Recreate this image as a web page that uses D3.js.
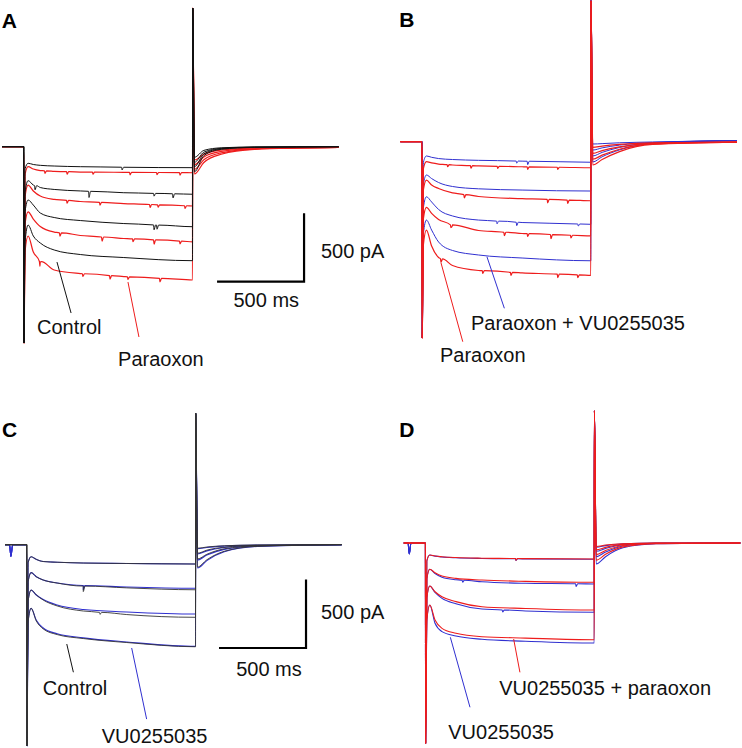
<!DOCTYPE html>
<html><head><meta charset="utf-8">
<script src="https://cdn.jsdelivr.net/npm/d3@7"></script>
<style>body{margin:0;background:#fff}svg{display:block}text{font-family:"Liberation Sans",Arial,sans-serif}</style>
</head><body>
<script>
// ---- timing (ms) ----
const stepOn = 125, stepOff = 1095, sweepEnd = 1935;
const stepTimes = [133, 150, 180, 220, 300, 450, 700, 1095];
const tailTimes = [1106, 1160, 1260, 1450, 1935];

// ---- Panel A: Control (black) vs Paraoxon (red), pA ----
const A_onsetMin = -1433, A_offsetMax = 1012;
const A_control_step = [
  [-160, -121, -130, -136, -141, -146, -150, -153],
  [-330, -248, -280, -298, -312, -323, -336, -347],
  [-470, -389, -426, -484, -517, -539, -561, -584],
  [-690, -572, -652, -703, -754, -787, -809, -832]];
const A_control_tail = [[-77,-27,-8,-2,0],[-114,-40,-12,-3,0],[-146,-52,-15,-4,0],[-183,-65,-19,-5,0]];
const A_control_events = [
  [[690,-20]],
  [[190,-30],[500,-45],[874,-20],[983,-30]],
  [[874,-35],[891,-30]],
  []];
const A_paraoxon_step = [
  [-200, -146, -163, -174, -180, -185, -187, -190],
  [-360, -280, -323, -360, -385, -400, -415, -433],
  [-560, -475, -528, -583, -623, -648, -670, -694],
  [-760, -652, -769, -842, -900, -926, -948, -973]];
const A_paraoxon_tail = [[-97,-55,-25,-10,-5],[-131,-75,-35,-14,-5],[-165,-95,-45,-17,-6],[-199,-115,-55,-20,-6]];
const A_paraoxon_events = [
  [[247,-18],[374,-18],[523,-15],[736,-18],[891,-15],[1023,-18]],
  [[374,-20],[563,-20],[851,-22],[897,-18],[1052,-20]],
  [[333,-25],[575,-30],[753,-20],[874,-30],[1023,-20]],
  [[218,-35],[465,-20],[621,-25],[724,-20],[908,-25]]];

// ---- Panel B: Paraoxon (red) vs Paraoxon + VU0255035 (blue) ----
const B_onsetMin = -1433, B_offsetMax = 1030;
const B_paraoxon_step = [
  [-195, -146, -155, -163, -170, -177, -183, -190],
  [-350, -280, -316, -342, -374, -400, -416, -431],
  [-560, -479, -523, -568, -612, -648, -670, -688],
  [-750, -645, -761, -845, -904, -940, -958, -975]];
const B_paraoxon_tail = [[-41,-32,-20,-8,-3],[-85,-65,-38,-12,-3],[-128,-98,-55,-16,-3],[-170,-130,-72,-20,-3]];
const B_paraoxon_events = [
  [[272,-15],[406,-18],[560,-15],[732,-18],[905,-15]],
  [[368,-25],[847,-25],[962,-25]],
  [[291,-20],[598,-25],[732,-20],[866,-30],[981,-20]],
  [[234,-25],[474,-20],[636,-22],[905,-25],[1020,-20]]];
const B_combo_step = [
  [-150, -104, -114, -123, -130, -136, -142, -150],
  [-310, -243, -269, -298, -327, -344, -353, -360],
  [-480, -402, -440, -495, -542, -572, -590, -603],
  [-670, -572, -645, -732, -794, -827, -849, -869]];
const B_combo_tail = [[-17,-14,-8,-2,8],[-61,-45,-25,-6,8],[-104,-78,-42,-10,8],[-148,-110,-60,-14,8]];
const B_combo_events = [
  [[669,-15],[732,-25]],
  [],
  [[556,-20],[669,-25],[1023,-15]],
  []];

// ---- Panel C: Control (black) vs VU0255035 (blue) ----
const C_onsetMin = -1467, C_offsetMax = 959;
const C_control_step = [
  [-130, -88, -107, -123, -128, -134, -137, -141],
  [-270, -204, -234, -258, -280, -302, -315, -329],
  [-410, -331, -367, -404, -447, -484, -510, -530],
  [-560, -464, -557, -615, -656, -685, -714, -745]];
const C_control_tail = [[-26,-17,-8,-2,0],[-62,-40,-18,-5,0],[-104,-70,-30,-8,0],[-163,-110,-48,-12,0]];
const C_control_events = [[], [[450,-40]], [[546,-15]], []];
const C_vu_step = [
  [-130, -88, -107, -123, -128, -134, -137, -141],
  [-270, -204, -234, -258, -280, -298, -309, -318],
  [-410, -331, -367, -400, -440, -473, -491, -506],
  [-560, -464, -552, -608, -650, -680, -710, -742]];
const C_vu_tail = [[-30,-20,-10,-3,0],[-68,-45,-21,-6,0],[-112,-76,-34,-9,0],[-170,-116,-52,-13,0]];
const C_vu_events = [[], [[450,-30]], [], []];
const C_blipTimes = [26, 34, 44], C_blipValues = [0, -85, 0];

// ---- Panel D: VU0255035 (blue) vs VU0255035 + paraoxon (red) ----
const D_onsetMin = -1462, D_offsetMax = 966;
const D_vu_step = [
  [-130, -88, -96, -102, -108, -113, -116, -119],
  [-260, -192, -223, -250, -268, -283, -294, -299],
  [-400, -314, -361, -404, -443, -482, -496, -506],
  [-560, -453, -586, -647, -679, -703, -717, -730]];
const D_vu_tail = [[-30,-19,-6,0,0],[-60,-40,-13,-2,0],[-100,-66,-22,-4,0],[-153,-100,-35,-6,0]];
const D_vu_events = [[[645,-12]], [[339,-15],[991,-20]], [[569,-15]], []];
const D_combo_step = [
  [-130, -88, -95, -100, -106, -111, -114, -117],
  [-260, -192, -217, -241, -258, -270, -280, -287],
  [-400, -314, -356, -392, -428, -465, -478, -489],
  [-560, -453, -562, -623, -659, -684, -694, -706]];
const D_combo_tail = [[-25,-15,-5,0,0],[-50,-32,-10,-2,0],[-85,-55,-18,-3,0],[-125,-82,-28,-5,0]];
const D_combo_events = [[[645,-12]], [], [], []];
const D_blipTimes = [25, 32, 42], D_blipValues = [0, -80, 0];

// ---- Scale bars (ms, pA) ----
const scaleBarMs = 500, scaleBarPA = 500;

// ---- layout ----
const W = 742, H = 748;
const pxPerMs = 0.174, pxPerPA = 0.137;
const RED = "#ee1c1c", BLUE = "#3030d0", BLACK = "#111";

const svg = d3.select("body").append("svg").attr("width", W).attr("height", H);
svg.append("rect").attr("width", W).attr("height", H).attr("fill", "#fff");

function makeScales(x0, baseY) {
  const x = d3.scaleLinear().domain([0, sweepEnd]).range([x0, x0 + sweepEnd * pxPerMs]);
  const y = d3.scaleLinear().domain([-1500, 1100]).range([baseY + 1500 * pxPerPA, baseY - 1100 * pxPerPA]);
  return {x, y};
}

function tracePoints(step, tail, events, onsetMin, offsetMax, blipT, blipV) {
  let pts = [[0, 0]];
  if (blipT) blipT.forEach((t, i) => pts.push([t, blipV[i]]));
  pts.push([stepOn, 0], [stepOn + 1, onsetMin]);
  stepTimes.forEach((t, i) => pts.push([t, step[i]]));
  pts.push([stepOff + 1, offsetMax]);
  tailTimes.forEach((t, i) => pts.push([t, tail[i]]));
  // add brief downward events onto the local level
  const sT = stepTimes.slice(1), sV = step.slice(1);
  const level = d3.scaleLinear().domain(sT).range(sV).clamp(true);
  (events || []).forEach(([t, a]) => {
    const v = level(t);
    pts.push([t - 3, v], [t, v + a], [t + 9, v]);
  });
  pts.sort((a, b) => a[0] - b[0]);
  return pts;
}

const panels = [
  {letter: "A", x0: 2, baseY: 146.7, letterPos: [1.7, 28.3],
   groups: [
     {step: A_paraoxon_step, tail: A_paraoxon_tail, events: A_paraoxon_events, color: RED, w: 1.2},
     {step: A_control_step, tail: A_control_tail, events: A_control_events, color: BLACK, w: 1.0}],
   onsetMin: A_onsetMin, offsetMax: A_offsetMax,
   scaleBar: [1736, -985],
   labels: [
     {text: "Control", t: 201, v: -1368, pointer: [[316,-842],[397,-1214]], color: BLACK},
     {text: "Paraoxon", t: 667, v: -1601, pointer: [[724,-988],[787,-1389]], color: RED}],
   barLabels: {pA: [1833, -810], ms: [1519, -1168]}},
  {letter: "B", x0: 400.3, baseY: 141.7, letterPos: [399.3, 26.7],
   groups: [
     {step: B_combo_step, tail: B_combo_tail, events: B_combo_events, color: BLUE, w: 1.0},
     {step: B_paraoxon_step, tail: B_paraoxon_tail, events: B_paraoxon_events, color: RED, w: 1.2}],
   onsetMin: B_onsetMin, offsetMax: B_offsetMax,
   labels: [
     {text: "Paraoxon + VU0255035", t: 406, v: -1375, pointer: [[498,-840],[598,-1216]], color: BLUE},
     {text: "Paraoxon", t: 228, v: -1606, pointer: [[234,-885],[359,-1460]], color: RED}]},
  {letter: "C", x0: 5, baseY: 544.7, letterPos: [2, 436.7],
   groups: [
     {step: C_vu_step, tail: C_vu_tail, events: C_vu_events, color: BLUE, w: 1.1, blipT: C_blipTimes, blipV: C_blipValues},
     {step: C_control_step, tail: C_control_tail, events: C_control_events, color: "#333", w: 0.9}],
   onsetMin: C_onsetMin, offsetMax: C_offsetMax,
   scaleBar: [1730, -754],
   labels: [
     {text: "Control", t: 217, v: -1095, pointer: [[355,-725],[393,-931]], color: BLACK},
     {text: "VU0255035", t: 556, v: -1450, pointer: [[728,-754],[814,-1273]], color: BLUE}],
   barLabels: {pA: [1816, -542], ms: [1517, -955]}},
  {letter: "D", x0: 403.7, baseY: 543, letterPos: [399.3, 436.7],
   groups: [
     {step: D_vu_step, tail: D_vu_tail, events: D_vu_events, color: BLUE, w: 1.1, blipT: D_blipTimes, blipV: D_blipValues},
     {step: D_combo_step, tail: D_combo_tail, events: D_combo_events, color: RED, w: 1.1}],
   onsetMin: D_onsetMin, offsetMax: D_offsetMax,
   labels: [
     {text: "VU0255035 + paraoxon", t: 549, v: -1110, pointer: [[632,-701],[668,-944]], color: RED},
     {text: "VU0255035", t: 256, v: -1431, pointer: [[268,-688],[381,-1199]], color: BLUE}]}
];

panels.forEach(p => {
  const {x, y} = makeScales(p.x0, p.baseY);
  const g = svg.append("g");
  const line = d3.line().x(d => x(d[0])).y(d => y(d[1])).curve(d3.curveMonotoneX);

  p.groups.forEach(gr => {
    gr.step.forEach((s, i) => {
      g.append("path")
        .attr("d", line(tracePoints(s, gr.tail[i], gr.events[i], p.onsetMin, p.offsetMax, gr.blipT, gr.blipV)))
        .attr("fill", "none").attr("stroke", gr.color).attr("stroke-width", gr.w)
        .attr("stroke-linejoin", "round");
    });
  });

  p.labels.forEach(l => {
    g.append("line")
      .attr("x1", x(l.pointer[0][0])).attr("y1", y(l.pointer[0][1]))
      .attr("x2", x(l.pointer[1][0])).attr("y2", y(l.pointer[1][1]))
      .attr("stroke", l.color).attr("stroke-width", 1);
    g.append("text").attr("x", x(l.t)).attr("y", y(l.v))
      .attr("font-size", 20).attr("fill", "#111").text(l.text);
  });

  if (p.scaleBar) {
    const [bt, bv] = p.scaleBar;
    g.append("path")
      .attr("d", `M${x(bt - scaleBarMs)},${y(bv)}H${x(bt)}V${y(bv + scaleBarPA)}`)
      .attr("fill", "none").attr("stroke", "#000").attr("stroke-width", 2.2);
    g.append("text").attr("x", x(p.barLabels.pA[0])).attr("y", y(p.barLabels.pA[1]))
      .attr("font-size", 20).attr("fill", "#111").text(scaleBarPA + " pA");
    g.append("text").attr("x", x(p.barLabels.ms[0])).attr("y", y(p.barLabels.ms[1]))
      .attr("text-anchor", "middle").attr("font-size", 20).attr("fill", "#111").text(scaleBarMs + " ms");
  }

  svg.append("text").attr("x", p.letterPos[0]).attr("y", p.letterPos[1])
    .attr("font-size", 21).attr("font-weight", "bold").attr("fill", "#000").text(p.letter);
});
</script>
</body></html>
